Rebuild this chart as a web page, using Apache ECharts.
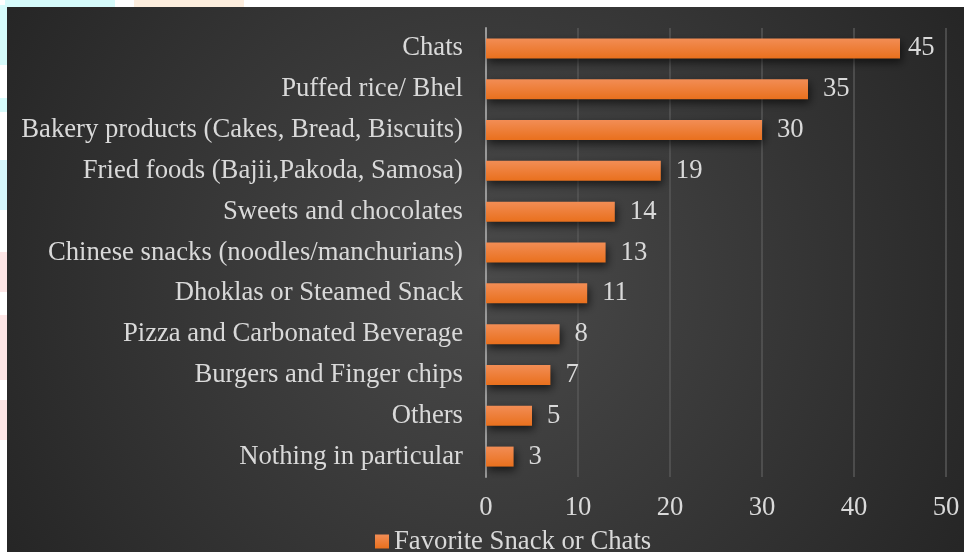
<!DOCTYPE html>
<html>
<head>
<meta charset="utf-8">
<script src="https://cdn.jsdelivr.net/npm/echarts@6/dist/echarts.min.js"></script>
<style>
  html, body { margin: 0; padding: 0; background: #ffffff; width: 964px; height: 552px; overflow: hidden; position: relative; }
  .tint { position: absolute; }
  #chart { position: absolute; left: 7px; top: 7px; width: 957px; height: 545px; }
</style>
</head>
<body>
<div class="tint" style="left:5px;top:0;width:110px;height:7px;background:#d6fbfb"></div>
<div class="tint" style="left:134px;top:0;width:110px;height:7px;background:#fdeede"></div>
<div class="tint" style="left:0;top:5px;width:7px;height:60px;background:#d6fbfb"></div>
<div class="tint" style="left:0;top:98px;width:7px;height:14px;background:#d6fbfb"></div>
<div class="tint" style="left:0;top:160px;width:7px;height:50px;background:#d6f6fb"></div>
<div class="tint" style="left:0;top:252px;width:7px;height:40px;background:#fde6e6"></div>
<div class="tint" style="left:0;top:315px;width:7px;height:65px;background:#fde6e6"></div>
<div class="tint" style="left:0;top:400px;width:7px;height:40px;background:#fde6e6"></div>
<div id="chart"></div>
<script>
// Survey responses: favourite snack or chats
const categories = [
  'Chats',
  'Puffed rice/ Bhel',
  'Bakery products (Cakes, Bread, Biscuits)',
  'Fried foods (Bajii,Pakoda, Samosa)',
  'Sweets and chocolates',
  'Chinese snacks (noodles/manchurians)',
  'Dhoklas or Steamed Snack',
  'Pizza and Carbonated Beverage',
  'Burgers and Finger chips',
  'Others',
  'Nothing in particular'
];
const counts = [45, 35, 30, 19, 14, 13, 11, 8, 7, 5, 3];
const seriesName = 'Favorite Snack or Chats';
const axisTicks = [0, 10, 20, 30, 40, 50];

const textColor = '#d9d9d9';
const font = '"Liberation Serif", "Times New Roman", serif';
const fontSize = 26.7;

// the longest bar's label sits closer so it stays inside the plot
const barData = counts.map((v, i) =>
  i === 0 ? { value: v, label: { distance: 8 } } : v
);

const chart = echarts.init(document.getElementById('chart'));
chart.setOption({
  backgroundColor: {
    type: 'radial', x: 0.5, y: 0.5, r: 1.0,
    colorStops: [
      { offset: 0, color: '#4a4a4a' },
      { offset: 1, color: '#262626' }
    ]
  },
  textStyle: { fontFamily: font },
  animation: false,
  grid: { left: 479, right: 18, top: 21, bottom: 75 },
  legend: {
    data: [seriesName],
    left: 363, top: 516,
    icon: 'rect', itemWidth: 14, itemHeight: 14, itemGap: 8,
    textStyle: { color: textColor, fontSize: fontSize, fontFamily: font }
  },
  xAxis: {
    type: 'value',
    min: axisTicks[0], max: axisTicks[axisTicks.length - 1], interval: 10,
    axisLine: { show: false },
    axisTick: { show: false },
    splitLine: { show: true, lineStyle: { color: '#575757', width: 1.5 } },
    axisLabel: { color: textColor, fontSize: fontSize, fontFamily: font, margin: 17 }
  },
  yAxis: {
    type: 'category',
    inverse: true,
    data: categories,
    axisLine: { show: true, lineStyle: { color: '#9a9a9a', width: 2 } },
    axisTick: { show: false },
    axisLabel: { color: textColor, fontSize: fontSize, fontFamily: font, margin: 23 }
  },
  series: [{
    name: seriesName,
    type: 'bar',
    data: barData,
    barWidth: 20,
    itemStyle: {
      color: {
        type: 'linear', x: 0, y: 0, x2: 0, y2: 1,
        colorStops: [
          { offset: 0, color: '#f28d55' },
          { offset: 1, color: '#e9701d' }
        ]
      },
      shadowColor: 'rgba(0,0,0,0.6)',
      shadowBlur: 8,
      shadowOffsetX: 2,
      shadowOffsetY: 4
    },
    label: {
      show: true, position: 'right', distance: 15,
      color: textColor, fontSize: fontSize, fontFamily: font
    }
  }]
});
</script>
</body>
</html>
